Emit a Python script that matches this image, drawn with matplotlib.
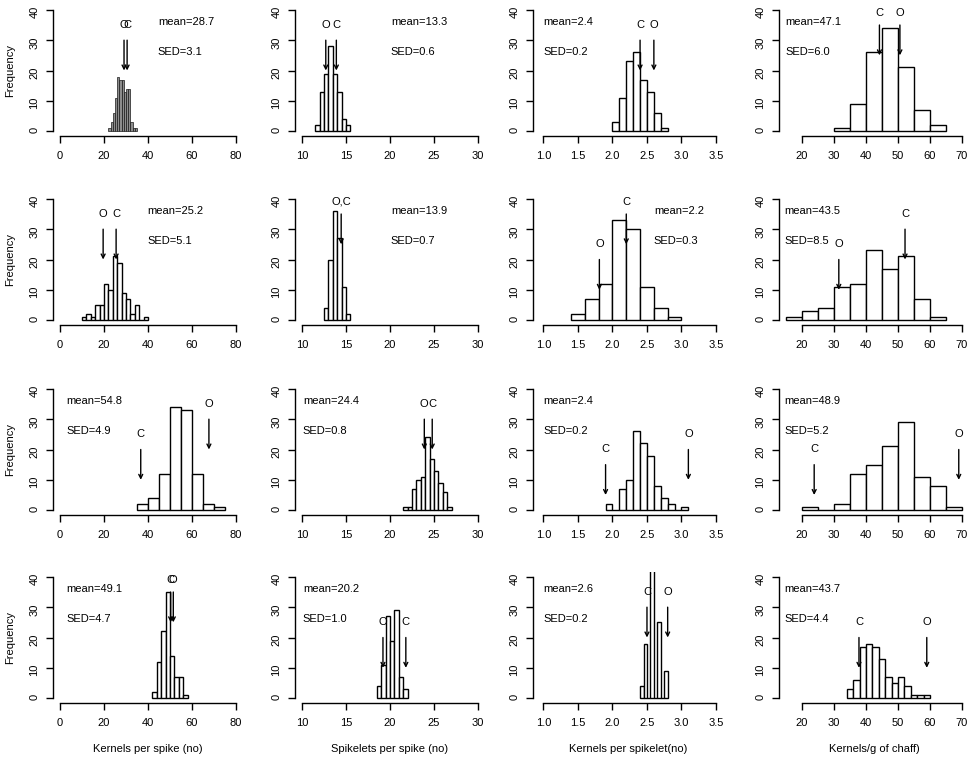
import numpy as np
import matplotlib
matplotlib.use('Agg')
import matplotlib.pyplot as plt

plt.rcParams['font.family'] = ['Liberation Sans', 'DejaVu Sans']
plt.rcParams['font.size'] = 8

# column settings (one trait per column)
xlabels = ['Kernels per spike (no)', 'Spikelets per spike (no)',
           'Kernels per spikelet(no)', 'Kernels/g of chaff)']
xlims = [(0, 80), (10, 30), (0.95, 3.5), (15, 70)]
xticks = [[0, 20, 40, 60, 80], [10, 15, 20, 25, 30],
          [1.0, 1.5, 2.0, 2.5, 3.0, 3.5], [20, 30, 40, 50, 60, 70]]

# histograms: first bin edge, bin width, counts (row by row)
bin_start = [[22, 11.5, 2.0, 30],
             [10, 12.5, 1.4, 15],
             [35, 21.5, 1.9, 20],
             [42, 18.5, 2.4, 34]]
bin_width = [[1, 0.5, 0.1, 5],
             [2, 0.5, 0.2, 5],
             [5, 0.5, 0.1, 5],
             [2, 0.5, 0.05, 2]]
counts_r1 = [[1, 3, 6, 11, 18, 17, 17, 13, 14, 14, 3, 1, 1],
             [2, 13, 19, 28, 19, 13, 4, 2],
             [3, 11, 23, 26, 17, 13, 6, 1],
             [1, 9, 26, 34, 21, 7, 2]]
counts_r2 = [[1, 2, 1, 5, 5, 12, 10, 21, 19, 9, 7, 2, 5, 0, 1],
             [4, 20, 36, 27, 11, 2],
             [2, 7, 12, 33, 30, 11, 4, 1],
             [1, 3, 4, 11, 12, 23, 17, 21, 7, 1]]
counts_r3 = [[2, 4, 12, 34, 33, 12, 2, 1],
             [1, 1, 7, 10, 11, 24, 17, 13, 9, 6, 1],
             [2, 0, 7, 10, 26, 22, 18, 8, 4, 2, 0, 1],
             [1, 0, 2, 12, 15, 21, 29, 11, 8, 1]]
counts_r4 = [[2, 12, 22, 35, 14, 7, 7, 1],
             [4, 11, 27, 19, 29, 7, 3],
             [4, 18, 0, 44, 0, 25, 0, 9],
             [3, 6, 17, 18, 17, 13, 7, 5, 7, 4, 1, 1, 1]]
counts = [counts_r1, counts_r2, counts_r3, counts_r4]

means = [[28.7, 13.3, 2.4, 47.1],
         [25.2, 13.9, 2.2, 43.5],
         [54.8, 24.4, 2.4, 48.9],
         [49.1, 20.2, 2.6, 43.7]]
seds = [[3.1, 0.6, 0.2, 6.0],
        [5.1, 0.7, 0.3, 8.5],
        [4.9, 0.8, 0.2, 5.2],
        [4.7, 1.0, 0.2, 4.4]]
text_x = [[44.5, 20.1, 1.0, 14.8],
          [39.9, 20.1, 2.6, 14.6],
          [3.0, 10.1, 1.0, 14.6],
          [3.0, 10.1, 1.0, 14.6]]

# arrows: (label, x, label y, arrow top, arrow tip)
marks = [
    [[('O', 29.1, 35, 30, 20), ('C', 30.5, 35, 30, 20)],
     [('O', 12.7, 35, 30, 20), ('C', 13.9, 35, 30, 20)],
     [('C', 2.4, 35, 30, 20), ('O', 2.6, 35, 30, 20)],
     [('C', 44.2, 39, 35, 25), ('O', 50.6, 39, 35, 25)]],
    [[('O', 19.6, 35, 30, 20), ('C', 25.5, 35, 30, 20)],
     [('O,C', 14.45, 39, 35, 25)],
     [('O', 1.81, 25, 20, 10), ('C', 2.2, 39, 35, 25)],
     [('O', 31.5, 25, 20, 10), ('C', 52.2, 35, 30, 20)]],
    [[('C', 36.7, 25, 20, 10), ('O', 67.7, 35, 30, 20)],
     [('O', 23.9, 35, 30, 20), ('C', 24.8, 35, 30, 20)],
     [('C', 1.9, 20, 15, 5), ('O', 3.1, 25, 20, 10)],
     [('C', 23.8, 20, 15, 5), ('O', 69.0, 25, 20, 10)]],
    [[('C', 50.3, 39, 35, 25), ('O', 51.5, 39, 35, 25)],
     [('O', 19.2, 25, 20, 10), ('C', 21.8, 25, 20, 10)],
     [('C', 2.5, 35, 30, 20), ('O', 2.8, 35, 30, 20)],
     [('C', 37.8, 25, 20, 10), ('O', 59.0, 25, 20, 10)]],
]

W, H = 970, 759
col_left = [53, 295, 533, 779]
row_top = [5, 194, 384, 572]
ax_w, ax_h = 190, 131

fig = plt.figure(figsize=(W / 100, H / 100), dpi=100)

for r in range(4):
    for c in range(4):
        ax = fig.add_axes([col_left[c] / W, 1 - (row_top[r] + ax_h) / H, ax_w / W, ax_h / H])
        lo, hi = xlims[c]
        pad = 0.04 * (hi - lo)
        ax.set_xlim(lo - pad, hi + pad)
        ax.set_ylim(-1.6, 41.6)

        cnt = counts[r][c]
        w = bin_width[r][c]
        edges = bin_start[r][c] + w * np.arange(len(cnt))
        if r == 0 and c == 0:
            ax.bar(edges, cnt, width=w, align='edge', facecolor='#8c8c8c',
                   edgecolor='#1a1a1a', linewidth=0.5)
        else:
            ax.bar(edges, cnt, width=w, align='edge', facecolor='white',
                   edgecolor='black', linewidth=1.0)

        ax.text(text_x[r][c], 36, f'mean={means[r][c]:.1f}', ha='left', va='center')
        ax.text(text_x[r][c], 26, f'SED={seds[r][c]:.1f}', ha='left', va='center')

        for lab, x, ly, ytop, ybot in marks[r][c]:
            ax.text(x, ly, lab, ha='center', va='center')
            ax.annotate('', xy=(x, ybot), xytext=(x, ytop),
                        arrowprops=dict(arrowstyle='->', lw=1.0, color='black',
                                        shrinkA=0, shrinkB=0, mutation_scale=7))

        for s in ['top', 'right']:
            ax.spines[s].set_visible(False)
        ax.spines['left'].set_bounds(0, 40)
        ax.spines['bottom'].set_bounds(xticks[c][0], xticks[c][-1])
        for s in ['left', 'bottom']:
            ax.spines[s].set_linewidth(1.0)

        ax.set_yticks([0, 10, 20, 30, 40])
        ax.set_xticks(xticks[c])
        if c == 2:
            ax.set_xticklabels([f'{v:.1f}' for v in xticks[c]])
        ax.tick_params(axis='y', labelrotation=90, length=4.7, width=1.0, pad=5)
        ax.tick_params(axis='x', length=4.7, width=1.0, pad=6)

        if c == 0:
            ax.text(-0.226, 0.5, 'Frequency', transform=ax.transAxes,
                    rotation=90, ha='center', va='center')
        if r == 3:
            ax.text(0.5, -46 / ax_h, xlabels[c], transform=ax.transAxes,
                    ha='center', va='center')

fig.savefig('out.png', dpi=100)
